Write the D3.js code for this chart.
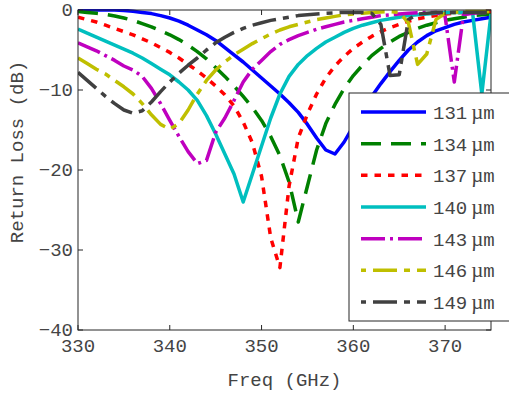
<!DOCTYPE html>
<html><head><meta charset="utf-8">
<script src="https://cdn.jsdelivr.net/npm/d3@7"></script>
<style>html,body{margin:0;padding:0;background:#fff;}svg{display:block;}</style>
</head><body>
<svg id="c" width="509" height="397"></svg>
<script>
const freq = [330,331,332,333,334,335,336,337,338,339,340,341,342,343,344,345,346,347,348,349,350,351,352,353,354,355,356,357,358,359,360,361,362,363,364,365,366,367,368,369,370,371,372,373,374,375];
const s131 = [0,0,0,0,0,-0.05,-0.15,-0.3,-0.45,-0.7,-1.0,-1.4,-1.9,-2.5,-3.1,-3.8,-4.7,-5.6,-6.5,-7.5,-8.5,-9.5,-10.5,-11.6,-12.8,-14.3,-16.0,-17.5,-18.0,-16.5,-14.5,-12.6,-10.8,-9.2,-7.7,-6.3,-5.0,-4.0,-3.2,-2.6,-2.2,-1.8,-1.5,-1.3,-1.1,-0.9];
const s134 = [-0.2,-0.3,-0.4,-0.55,-0.75,-1.0,-1.3,-1.7,-2.1,-2.6,-3.1,-3.7,-4.4,-5.2,-6.1,-7.2,-8.3,-9.5,-10.8,-12.2,-13.8,-15.8,-18.2,-21.5,-26.5,-22.0,-17.5,-14.2,-11.8,-9.8,-8.2,-6.9,-5.7,-4.8,-4.0,-3.3,-2.8,-2.3,-1.9,-1.6,-1.3,-1.1,-0.9,-0.7,-0.6,-0.5];
const s137 = [-0.9,-1.2,-1.5,-1.9,-2.3,-2.7,-3.1,-3.6,-4.1,-4.7,-5.3,-6.0,-6.8,-7.6,-8.5,-9.5,-10.6,-12.0,-14.0,-16.6,-20.8,-28.5,-32.2,-22.0,-16.0,-13.0,-10.5,-8.5,-7.0,-5.8,-4.8,-4.0,-3.3,-2.7,-2.2,-1.8,-1.4,-1.1,-0.9,-0.7,-0.5,-0.4,-0.3,-0.25,-0.2,-0.2];
const s140 = [-2.4,-2.9,-3.4,-3.9,-4.4,-4.9,-5.4,-6.0,-6.7,-7.4,-8.1,-9.0,-10.0,-11.3,-13.2,-15.5,-18.0,-20.5,-24.0,-20.5,-17.0,-13.5,-10.5,-8.3,-6.8,-5.7,-4.8,-4.0,-3.4,-2.8,-2.3,-1.9,-1.6,-1.3,-1.1,-0.9,-0.7,-0.6,-0.5,-0.4,-0.35,-0.3,-0.3,-0.4,-10.5,-0.5];
const s143 = [-4.1,-4.6,-5.1,-5.7,-6.3,-7.0,-7.5,-8.3,-9.8,-11.7,-13.8,-15.8,-17.7,-19.2,-18.8,-15.3,-13.5,-11.3,-9.0,-7.4,-6.3,-5.2,-4.3,-3.7,-3.2,-2.8,-2.4,-2.1,-1.8,-1.5,-1.3,-1.1,-0.9,-0.7,-0.6,-0.5,-0.4,-0.35,-0.3,-0.3,-0.8,-9.0,-0.6,-0.4,-0.3,-0.3];
const s146 = [-6.0,-6.7,-7.4,-8.0,-8.8,-9.6,-10.5,-11.7,-13.1,-14.3,-14.9,-14.2,-12.5,-10.5,-8.8,-7.5,-6.5,-5.6,-4.9,-4.2,-3.6,-3.0,-2.5,-2.1,-1.8,-1.5,-1.2,-1.0,-0.8,-0.6,-0.5,-0.4,-0.3,-0.25,-0.2,-0.3,-1.6,-6.8,-5.5,-1.2,-0.4,-0.3,-0.2,-0.2,-0.2,-0.2];
const s149 = [-7.8,-8.8,-9.8,-10.8,-11.7,-12.5,-12.9,-12.6,-11.5,-10.2,-9.0,-7.9,-6.9,-6.0,-5.0,-4.1,-3.4,-2.8,-2.3,-1.9,-1.6,-1.3,-1.1,-0.9,-0.7,-0.6,-0.5,-0.4,-0.35,-0.3,-0.3,-0.3,-0.4,-1.8,-8.2,-8.1,-1.2,-0.5,-0.4,-0.3,-0.3,-0.3,-0.3,-0.3,-0.3,-0.3];
const seriesNames = ["131","134","137","140","143","146","149"];
const xTicks = [330,340,350,360,370];
const yTicks = [0,-10,-20,-30,-40];

const seriesVals = [s131,s134,s137,s140,s143,s146,s149];
const styles = [
  {c:"#0000FF", d:null},
  {c:"#008000", d:"20 10"},
  {c:"#FF0000", d:"6.5 7"},
  {c:"#00BFBF", d:null},
  {c:"#BF00BF", d:"24 5 3 5"},
  {c:"#BFBF00", d:"24 7 6 7", off:32},
  {c:"#404040", d:"24 7 6 7", off:32}
];

const svg = d3.select("#c");
const L=78, R=491, T=10, B=330;
const x = d3.scaleLinear().domain([330,375]).range([L,R]);
const y = d3.scaleLinear().domain([-40,0]).range([B,T]);
const font = "'Liberation Mono', 'Courier New', monospace";
const txtCol = "#444";

svg.append("defs").append("clipPath").attr("id","clip")
  .append("rect").attr("x",L).attr("y",T-1).attr("width",R-L).attr("height",B-T+1);

const line = d3.line().x((d,i)=>x(freq[i])).y(d=>y(d));
const g = svg.append("g").attr("clip-path","url(#clip)");
seriesVals.forEach((vals,k)=>{
  g.append("path").attr("d",line(vals)).attr("fill","none")
   .attr("stroke",styles[k].c).attr("stroke-width",3.5)
   .attr("stroke-dasharray",styles[k].d)
   .attr("stroke-linejoin","round");
});

// axes
const ax = svg.append("g");
ax.append("rect").attr("x",L).attr("y",T).attr("width",R-L).attr("height",B-T)
  .attr("fill","none").attr("stroke","#262626").attr("stroke-width",1);
xTicks.forEach(t=>{
  ax.append("line").attr("x1",x(t)).attr("x2",x(t)).attr("y1",B).attr("y2",B-5).attr("stroke","#262626");
  ax.append("line").attr("x1",x(t)).attr("x2",x(t)).attr("y1",T).attr("y2",T+5).attr("stroke","#262626");
  ax.append("text").attr("x",x(t)).attr("y",B+22).attr("text-anchor","middle")
    .attr("font-family",font).attr("font-size",19).attr("fill",txtCol).text(t);
});
yTicks.forEach(t=>{
  ax.append("line").attr("x1",L).attr("x2",L+5).attr("y1",y(t)).attr("y2",y(t)).attr("stroke","#262626");
  ax.append("line").attr("x1",R).attr("x2",R-5).attr("y1",y(t)).attr("y2",y(t)).attr("stroke","#262626");
  ax.append("text").attr("x",L-5).attr("y",y(t)+6).attr("text-anchor","end")
    .attr("font-family",font).attr("font-size",19).attr("fill",txtCol).text(t===0?"0":"\u2212"+(-t));
});
svg.append("text").attr("x",(L+R)/2).attr("y",386).attr("text-anchor","middle")
  .attr("font-family",font).attr("font-size",19).attr("fill",txtCol).text("Freq (GHz)");
svg.append("text").attr("transform","translate(23,152) rotate(-90)").attr("text-anchor","middle")
  .attr("font-family",font).attr("font-size",19).attr("fill",txtCol).text("Return Loss (dB)");

// legend
const lg = svg.append("g");
lg.append("rect").attr("x",349).attr("y",93).attr("width",180).attr("height",228)
  .attr("fill","#fff").attr("stroke","#262626").attr("stroke-width",1);
const rowY = d3.scaleLinear().domain([0,6]).range([112,302]);
seriesNames.forEach((n,k)=>{
  const yy = rowY(k);
  lg.append("line").attr("x1",361).attr("x2",426).attr("y1",yy).attr("y2",yy)
    .attr("stroke",styles[k].c).attr("stroke-width",3.5)
    .attr("stroke-dasharray",styles[k].d).attr("stroke-dashoffset",styles[k].off||0);
  const t = lg.append("text").attr("x",433).attr("y",yy+7)
    .attr("font-family",font).attr("font-size",19).attr("fill",txtCol);
  t.append("tspan").text(n);
  t.append("tspan").attr("dx",4).attr("font-family","'Liberation Serif', serif").attr("font-size",21).text("\u00b5");
  t.append("tspan").text("m");
});
</script>
</body></html>
